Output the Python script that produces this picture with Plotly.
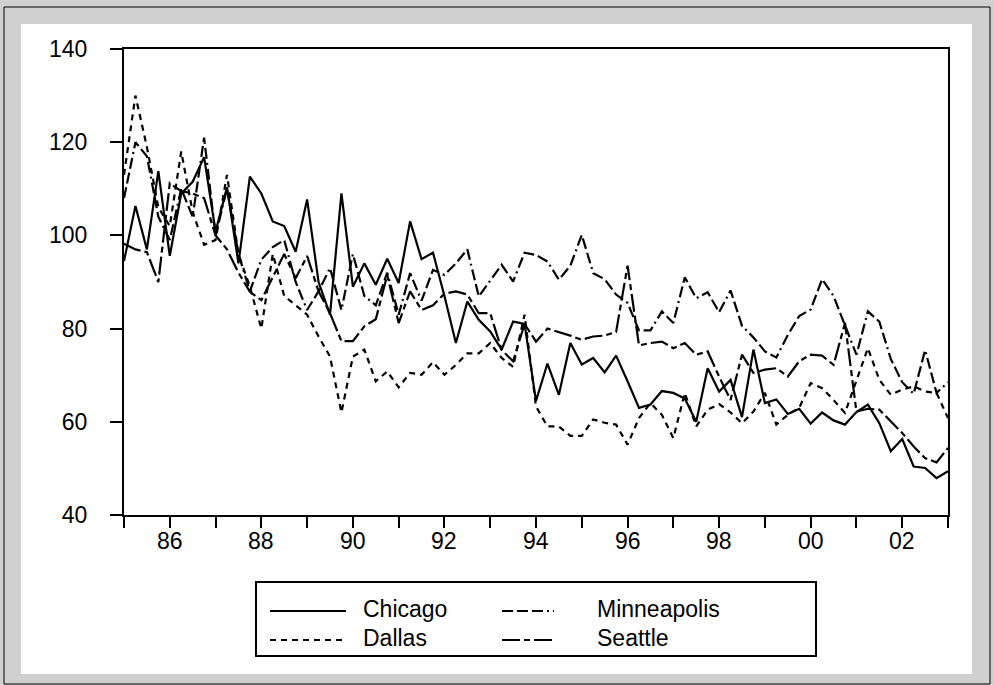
import pandas as pd
import plotly.graph_objects as go

# Quarterly observations, 1985Q1 - 2003Q1
quarters = pd.period_range("1985Q1", "2003Q1", freq="Q")
x_years = [p.year + (p.quarter - 1) / 4 for p in quarters]

chicago = [
    94.5, 106.3, 97.0, 113.8, 95.6, 109.0, 111.5, 116.8, 100.8, 110.3,
    94.0, 112.6, 109.0, 103.0, 102.0, 96.5, 107.7, 90.0, 83.0, 109.0,
    89.0, 94.0, 89.4, 95.0, 89.8, 103.0, 94.9, 96.3, 87.0, 76.9,
    85.8, 81.9, 79.4, 75.5, 81.5, 81.0, 64.5, 72.5, 65.8, 76.9,
    72.3, 73.7, 70.6, 74.2, 68.7, 63.0, 63.7, 66.6, 66.2, 65.0,
    60.0, 71.5, 66.5, 69.0, 61.0, 75.5, 64.0, 64.8, 61.7, 62.8,
    59.6, 62.0, 60.3, 59.4, 62.1, 63.7, 59.7, 53.7, 56.3, 50.4,
    50.1, 47.9, 49.4,
]
dallas = [
    113.0, 130.0, 119.0, 106.0, 102.0, 118.0, 105.0, 98.0, 99.0, 113.0,
    96.0, 89.0, 80.0, 96.0, 87.0, 85.0, 83.0, 78.3, 74.0, 62.0,
    74.0, 75.5, 68.7, 70.8, 67.4, 70.5, 70.1, 72.8, 70.1, 72.2,
    74.7, 74.7, 76.9, 73.7, 71.8, 83.0, 63.3, 59.0, 59.0, 57.0,
    57.0, 60.5, 59.8, 59.4, 55.1, 60.8, 64.0, 61.5, 56.5, 66.2,
    59.0, 62.6, 63.8, 62.0, 59.7, 62.2, 66.2, 59.4, 61.5, 63.0,
    68.3, 67.2, 64.7, 61.9, 69.0, 75.8, 69.0, 65.8, 66.9, 67.6,
    66.5, 66.2, 60.8,
]
minneapolis = [
    108.0, 120.0, 117.0, 104.0, 99.0, 110.0, 104.0, 121.0, 100.0, 110.0,
    96.0, 88.0, 94.8, 97.5, 99.0, 90.0, 84.0, 88.0, 93.0, 84.0,
    96.0, 87.0, 85.0, 92.0, 83.0, 91.9, 86.0, 92.6, 91.5, 94.0,
    97.0, 86.9, 90.3, 93.7, 90.1, 96.3, 95.8, 94.4, 90.5, 93.5,
    100.1, 91.9, 90.6, 87.3, 85.5, 79.6, 79.6, 83.7, 81.2, 91.0,
    86.5, 87.8, 83.5, 88.2, 80.6, 78.1, 75.1, 73.8, 78.6, 82.7,
    84.1, 90.6, 87.0, 80.8, 74.4, 83.7, 81.5, 73.5, 68.5, 66.0,
    75.4, 66.2, 68.5,
]
seattle = [
    98.2, 97.0, 96.4, 90.0, 111.2, 109.5, 109.0, 108.0, 100.0, 97.0,
    92.0, 87.9, 86.1, 91.0, 96.0, 90.8, 95.6, 88.0, 83.3, 77.3,
    77.3, 80.5, 82.0, 91.5, 81.2, 88.0, 84.0, 85.0, 87.5, 88.0,
    87.3, 83.3, 83.3, 75.4, 73.0, 81.0, 77.2, 80.0, 79.3, 78.5,
    77.6, 78.3, 78.5, 79.3, 93.5, 76.4, 76.9, 77.2, 75.8, 76.9,
    74.4, 75.1, 69.7, 64.7, 74.4, 70.5, 71.2, 71.5, 69.7, 73.0,
    74.4, 74.2, 72.2, 81.2, 62.2, 62.8, 62.6, 60.1, 57.6, 54.7,
    52.2, 51.3, 54.4,
]

series_names = ["Chicago", "Minneapolis", "Dallas", "Seattle"]
series_values = [chicago, minneapolis, dallas, seattle]
series_dash = [
    "solid",
    "11px,4px,11px,4px,11px,4px,2px,4px",
    "6px,5px",
    "18px,4px,6px,4px",
]

year_ticks = list(range(1985, 2004))
year_labels = [f"{y % 100:02d}" if y % 2 == 0 else "" for y in year_ticks]
y_ticks = [40, 60, 80, 100, 120, 140]

W, H = 994, 685
L, R, T, B = 124, 948, 49, 515
FONT = "Liberation Sans, Arial, sans-serif"


def px(x):
    return (x - L) / (R - L)


def py(y):
    return (B - y) / (B - T)


fig = go.Figure()
for name, vals, dash in zip(series_names, series_values, series_dash):
    fig.add_trace(go.Scatter(
        x=x_years, y=vals, mode="lines", name=name,
        line=dict(color="black", width=2.2, dash=dash),
        showlegend=False,
    ))

shapes = [
    # white page inside the grey frame
    dict(type="rect", xref="paper", yref="paper", layer="below",
         x0=px(21), x1=px(972), y0=py(674), y1=py(24),
         fillcolor="white", line=dict(width=0)),
    # thin outer border
    dict(type="rect", xref="paper", yref="paper", layer="below",
         x0=px(4), x1=px(990), y0=py(684), y1=py(7),
         fillcolor="rgba(0,0,0,0)", line=dict(color="black", width=1)),
    # legend box
    dict(type="rect", xref="paper", yref="paper",
         x0=px(256), x1=px(816), y0=py(656), y1=py(582),
         fillcolor="white", line=dict(color="black", width=2)),
]

legend_rows = {"Chicago": (270, 346, 611), "Dallas": (270, 346, 640),
               "Minneapolis": (502, 554, 611), "Seattle": (502, 554, 640)}
annotations = []
for name, dash in zip(series_names, series_dash):
    x0, x1, yy = legend_rows[name]
    shapes.append(dict(type="line", xref="paper", yref="paper",
                       x0=px(x0), x1=px(x1), y0=py(yy), y1=py(yy),
                       line=dict(color="black", width=2, dash=dash)))
    annotations.append(dict(
        xref="paper", yref="paper", x=px(x1 + 15 if x0 < 300 else x1 + 41),
        y=py(yy - 2), text=name, showarrow=False, xanchor="left",
        yanchor="middle", font=dict(family=FONT, size=23, color="black")))

# year labels under the axis, closer to the tick marks than the default
for yr, lab in zip(year_ticks, year_labels):
    if lab:
        annotations.append(dict(
            xref="x", yref="paper", x=yr, y=py(541), text=lab,
            showarrow=False, xanchor="center", yanchor="middle",
            font=dict(family=FONT, size=23, color="black")))

fig.update_layout(
    width=W, height=H,
    margin=dict(l=L, r=W - R, t=T, b=H - B, pad=0),
    paper_bgcolor="#d0d0d0",
    plot_bgcolor="white",
    font=dict(family=FONT, size=23, color="black"),
    shapes=shapes,
    annotations=annotations,
    xaxis=dict(
        range=[1985, 2003], tickmode="array", tickvals=year_ticks,
        ticktext=year_labels, showticklabels=False,
        ticks="outside", ticklen=11, tickwidth=2,
        tickcolor="black", showline=True, linewidth=2, linecolor="black",
        mirror=True, showgrid=False, zeroline=False,
    ),
    yaxis=dict(
        range=[40, 140], tickmode="array", tickvals=y_ticks,
        ticks="outside", ticklen=12, tickwidth=2, tickcolor="black",
        showline=True, linewidth=2, linecolor="black", mirror=True,
        showgrid=False, zeroline=False, ticklabelstandoff=18,
        tickfont=dict(family=FONT, size=23),
    ),
)

fig.write_html("out.html")
